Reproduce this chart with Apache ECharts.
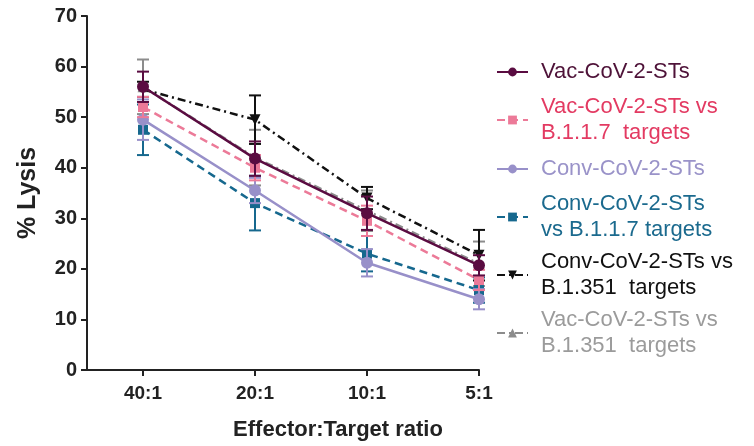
<!DOCTYPE html>
<html>
<head>
<meta charset="utf-8">
<script src="https://cdn.jsdelivr.net/npm/echarts@6/dist/echarts.min.js"></script>
<style>
  html, body { margin: 0; padding: 0; background: #fff; }
  #chart { width: 754px; height: 446px; }
</style>
</head>
<body>
<div id="chart"></div>
<script>
// Effector:Target ratios along the x axis
const categories = ['40:1', '20:1', '10:1', '5:1'];
const yTicks = [0, 10, 20, 30, 40, 50, 60, 70];

// Mean % lysis and SEM per group
const vacMean = [56, 41.8, 31, 20.7];
const vacErr = [3, 3.4, 3.3, 2];
const vacB117Mean = [52, 40, 29.5, 17.8];
const vacB117Err = [2, 2.5, 3, 2];
const convMean = [49.5, 35.5, 21.2, 14];
const convErr = [4, 2.5, 2.7, 2];
const convB117Mean = [47.5, 33, 23, 15.8];
const convB117Err = [5, 5.4, 3.5, 2.5];
const convB1351Mean = [55.5, 49.5, 34, 22.7];
const convB1351Err = [1.5, 4.8, 2.2, 5];
const vacB1351Mean = [56, 42, 31.5, 21];
const vacB1351Err = [5.4, 5.5, 4, 4.4];

const FONT = 'Liberation Sans, Arial, Helvetica, sans-serif';

const groups = [
  { name: 'Vac-CoV-2-STs', label: 'Vac-CoV-2-STs', mean: vacMean, err: vacErr,
    color: '#5a0c41', text: '#4e1238', symbol: 'circle', size: 12, type: 'solid', z: 8, top: 54 },
  { name: 'Vac-CoV-2-STs vs B.1.1.7 targets', label: 'Vac-CoV-2-STs vs\nB.1.1.7  targets', mean: vacB117Mean, err: vacB117Err,
    color: '#ec7a98', text: '#e33a62', symbol: 'rect', size: 10, type: [8, 5], z: 7, top: 89 },
  { name: 'Conv-CoV-2-STs', label: 'Conv-CoV-2-STs', mean: convMean, err: convErr,
    color: '#9890c9', text: '#9a93c9', symbol: 'circle', size: 12, type: 'solid', z: 6, top: 151 },
  { name: 'Conv-CoV-2-STs vs B.1.1.7 targets', label: 'Conv-CoV-2-STs\nvs B.1.1.7 targets', mean: convB117Mean, err: convB117Err,
    color: '#16688e', text: '#1b6a8e', symbol: 'rect', size: 10, type: [8, 5], z: 5, top: 186 },
  { name: 'Conv-CoV-2-STs vs B.1.351 targets', label: 'Conv-CoV-2-STs vs\nB.1.351  targets', mean: convB1351Mean, err: convB1351Err,
    color: '#111111', text: '#111111', symbol: 'triangle', rotate: 180, size: 11, type: [8, 4, 2, 4], z: 4, top: 244 },
  { name: 'Vac-CoV-2-STs vs B.1.351 targets', label: 'Vac-CoV-2-STs vs\nB.1.351  targets', mean: vacB1351Mean, err: vacB1351Err,
    color: '#8c8c8c', text: '#9b9b9b', symbol: 'triangle', size: 11, type: [8, 4, 2, 4], z: 3, top: 302 }
];

const series = [];
groups.forEach(g => {
  // SEM whiskers with caps
  series.push({
    type: 'custom',
    name: g.name + ' SEM',
    z: g.z,
    data: g.mean.map((m, i) => [i, m - g.err[i], m + g.err[i]]),
    encode: { x: 0, y: [1, 2] },
    renderItem: (params, api) => {
      const x = api.value(0);
      const lo = api.coord([x, api.value(1)]);
      const hi = api.coord([x, api.value(2)]);
      const hw = 6;
      const st = { stroke: g.color, lineWidth: 2 };
      return {
        type: 'group',
        children: [
          { type: 'line', shape: { x1: lo[0], y1: lo[1], x2: hi[0], y2: hi[1] }, style: st },
          { type: 'line', shape: { x1: hi[0] - hw, y1: hi[1], x2: hi[0] + hw, y2: hi[1] }, style: st },
          { type: 'line', shape: { x1: lo[0] - hw, y1: lo[1], x2: lo[0] + hw, y2: lo[1] }, style: st }
        ]
      };
    }
  });
  series.push({
    type: 'line',
    name: g.name,
    z: g.z,
    data: g.mean.map((m, i) => [i, m]),
    symbol: g.symbol,
    symbolSize: g.size,
    symbolRotate: g.rotate || 0,
    showAllSymbol: true,
    itemStyle: { color: g.color },
    lineStyle: { color: g.color, width: 2.5, type: g.type },
    emphasis: { disabled: true }
  });
});

const legends = groups.map(g => ({
  left: 491,
  top: g.top,
  orient: 'vertical',
  itemWidth: 31,
  itemHeight: 11,
  selectedMode: false,
  data: [{ name: g.name, textStyle: { color: g.text } }],
  formatter: () => g.label,
  textStyle: { fontFamily: FONT, fontSize: 22, lineHeight: 26, color: g.text, padding: [0, 0, 0, 8] }
}));

const chart = echarts.init(document.getElementById('chart'), null, { renderer: 'canvas' });
chart.setOption({
  animation: false,
  backgroundColor: '#ffffff',
  grid: { left: 87, right: 275, top: 16, bottom: 76, containLabel: false },
  legend: legends,
  xAxis: {
    type: 'value',
    min: -0.5,
    max: 3,
    name: 'Effector:Target ratio',
    nameLocation: 'middle',
    nameGap: 49,
    nameTextStyle: { fontFamily: FONT, fontSize: 22, fontWeight: 'bold', color: '#222', padding: [0, 0, 0, 110] },
    splitLine: { show: false },
    axisLine: { onZero: false, lineStyle: { color: '#222', width: 2 } },
    axisTick: { show: true, length: 6, lineStyle: { color: '#222', width: 2 }, customValues: [0, 1, 2, 3] },
    axisLabel: {
      customValues: [0, 1, 2, 3],
      formatter: v => categories[Math.round(v)],
      margin: 14,
      fontFamily: FONT, fontSize: 19, fontWeight: 'bold', color: '#222'
    }
  },
  yAxis: {
    type: 'value',
    min: 0,
    max: 70,
    interval: 10,
    name: '% Lysis',
    nameLocation: 'middle',
    nameGap: 46,
    nameTextStyle: { fontFamily: FONT, fontSize: 25, fontWeight: 'bold', color: '#222' },
    splitLine: { show: false },
    axisLine: { show: true, onZero: false, lineStyle: { color: '#222', width: 2 } },
    axisTick: { show: true, length: 6, lineStyle: { color: '#222', width: 2 } },
    axisLabel: {
      customValues: yTicks,
      margin: 10,
      fontFamily: FONT, fontSize: 20, fontWeight: 'bold', color: '#222'
    }
  },
  series: series
});
</script>
</body>
</html>
